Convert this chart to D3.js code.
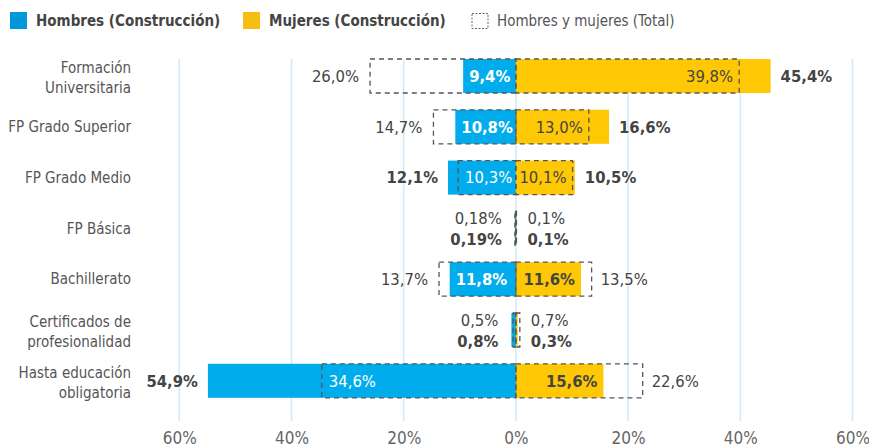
<!DOCTYPE html>
<html><head><meta charset="utf-8">
<script src="https://cdn.jsdelivr.net/npm/d3@7/dist/d3.min.js"></script>
<style>
body{margin:0;background:#fff;}
svg text{font-family:"Liberation Sans Narrow","DejaVu Sans Condensed","Roboto",sans-serif;}
</style>
</head><body>
<svg id="chart" width="869" height="448"></svg>
<script>
const categories = ["Formación\nUniversitaria","FP Grado Superior","FP Grado Medio","FP Básica","Bachillerato","Certificados de\nprofesionalidad","Hasta educación\nobligatoria"];
const menConstruccion = [9.4,10.8,12.1,0.19,11.8,0.8,54.9];
const womenConstruccion = [45.4,16.6,10.5,0.1,11.6,0.3,15.6];
const menTotal = [26.0,14.7,10.3,0.18,13.7,0.5,34.6];
const womenTotal = [39.8,13.0,10.1,0.1,13.5,0.7,22.6];
const tickValues = [-60,-40,-20,0,20,40,60];
const legendLabels = ["Hombres (Construcción)","Mujeres (Construcción)","Hombres y mujeres (Total)"];

const BLUE = "#00ACEB", YELLOW = "#FFC805", LBLUE = "#0098D8", LYELLOW = "#F5BF12";
const DARK = "#444", GRID = "#d3eaf8";

const svg = d3.select("#chart");
const x = d3.scaleLinear().domain([-60,60]).range([179.3,852.5]);
const y = d3.scaleBand().domain(categories).range([50.6,406.2]).paddingInner(0.33).paddingOuter(0.165);
const bw = y.bandwidth();

const fmt = v => {
  const t = Math.abs(v*10 - Math.round(v*10)) < 1e-9 ? v.toFixed(1) : v.toFixed(2);
  return t.replace(".", ",") + "%";
};

// grid
svg.append("g").selectAll("line").data(tickValues).join("line")
  .attr("x1", d => x(d)).attr("x2", d => x(d))
  .attr("y1", 59).attr("y2", 421)
  .attr("stroke", GRID).attr("stroke-width", 1.5);

// axis
const axis = d3.axisBottom(x).tickValues(tickValues).tickSize(0).tickPadding(0)
  .tickFormat(d => Math.abs(d) + "%");
const ag = svg.append("g").attr("transform", "translate(0,432)").call(axis);
ag.select(".domain").remove();
ag.selectAll("text").attr("fill", "#666").attr("font-size", 17).attr("dy", "0.71em")
  .style("font-family", null);

// bars
const rows = categories.map((c,i) => ({c, mc: menConstruccion[i], wc: womenConstruccion[i], mt: menTotal[i], wt: womenTotal[i]}));
const g = svg.append("g");
g.selectAll("rect.m").data(rows).join("rect").attr("class","m")
  .attr("x", d => x(-d.mc)).attr("width", d => x(0) - x(-d.mc))
  .attr("y", d => y(d.c)).attr("height", bw).attr("fill", BLUE);
g.selectAll("rect.w").data(rows).join("rect").attr("class","w")
  .attr("x", x(0)).attr("width", d => x(d.wc) - x(0))
  .attr("y", d => y(d.c)).attr("height", bw).attr("fill", YELLOW);
g.selectAll("rect.mt").data(rows).join("rect").attr("class","mt")
  .attr("x", d => x(-d.mt)).attr("width", d => x(0) - x(-d.mt))
  .attr("y", d => y(d.c)).attr("height", bw)
  .attr("fill", "none").attr("stroke", "#555").attr("stroke-width", 1.3).attr("stroke-dasharray", "5,4");
g.selectAll("rect.wt").data(rows).join("rect").attr("class","wt")
  .attr("x", x(0)).attr("width", d => x(d.wt) - x(0))
  .attr("y", d => y(d.c)).attr("height", bw)
  .attr("fill", "none").attr("stroke", "#555").attr("stroke-width", 1.3).attr("stroke-dasharray", "5,4");

// value labels
const FS = 16.5;
const lab = svg.append("g").attr("font-size", FS);
function addText(xp, yp, txt, anchor, bold, color) {
  lab.append("text").attr("x", xp).attr("y", yp).attr("dy", "0.35em")
    .attr("text-anchor", anchor).attr("font-weight", bold ? "bold" : "normal")
    .attr("fill", color).text(txt);
}
rows.forEach(d => {
  const cy = y(d.c) + bw/2;
  const mMax = Math.max(d.mc, d.mt), wMax = Math.max(d.wc, d.wt);
  if (mMax < 2 && wMax < 2) {
    addText(x(-mMax) - 13, cy - 10, fmt(d.mt), "end", false, DARK);
    addText(x(-mMax) - 13, cy + 11, fmt(d.mc), "end", true, DARK);
    addText(x(wMax) + 11, cy - 10, fmt(d.wt), "start", false, DARK);
    addText(x(wMax) + 11, cy + 11, fmt(d.wc), "start", true, DARK);
    return;
  }
  if (d.mc >= d.mt) {
    addText(x(-d.mc) - 10, cy, fmt(d.mc), "end", true, DARK);
    addText(x(-d.mt) + 7, cy, fmt(d.mt), "start", false, "#fff");
  } else {
    addText(x(-d.mt) - 11, cy, fmt(d.mt), "end", false, DARK);
    addText(x(-d.mc) + 6, cy, fmt(d.mc), "start", true, "#fff");
  }
  if (d.wc >= d.wt) {
    addText(x(d.wc) + 10, cy, fmt(d.wc), "start", true, DARK);
    addText(x(d.wt) - 6, cy, fmt(d.wt), "end", false, DARK);
  } else {
    addText(x(d.wt) + 9, cy, fmt(d.wt), "start", false, DARK);
    addText(x(d.wc) - 6, cy, fmt(d.wc), "end", true, DARK);
  }
});

// category labels
const cl = svg.append("g").attr("font-size", 15).attr("fill", "#555").attr("text-anchor", "end");
categories.forEach(c => {
  const lines = c.split("\n");
  const cy = y(c) + bw/2;
  lines.forEach((ln, j) => {
    const off = lines.length === 1 ? 0 : (j === 0 ? -8 : 12);
    cl.append("text").attr("x", 131).attr("y", cy + off).attr("dy", "0.35em").text(ln);
  });
});

// legend
const lg = svg.append("g").attr("font-size", 15);
lg.append("rect").attr("x", 10).attr("y", 12).attr("width", 17).attr("height", 17).attr("fill", LBLUE);
lg.append("text").attr("x", 36).attr("y", 21).attr("dy", "0.35em").attr("font-weight", "bold").attr("fill", DARK).text(legendLabels[0]);
lg.append("rect").attr("x", 243).attr("y", 12).attr("width", 17).attr("height", 17).attr("fill", LYELLOW);
lg.append("text").attr("x", 269).attr("y", 21).attr("dy", "0.35em").attr("font-weight", "bold").attr("fill", DARK).text(legendLabels[1]);
lg.append("rect").attr("x", 472).attr("y", 13.5).attr("width", 16).attr("height", 15).attr("fill", "none")
  .attr("stroke", "#666").attr("stroke-width", 1).attr("stroke-dasharray", "2,1.5");
lg.append("text").attr("x", 497).attr("y", 21).attr("dy", "0.35em").attr("fill", "#555").text(legendLabels[2]);
</script>
</body></html>
